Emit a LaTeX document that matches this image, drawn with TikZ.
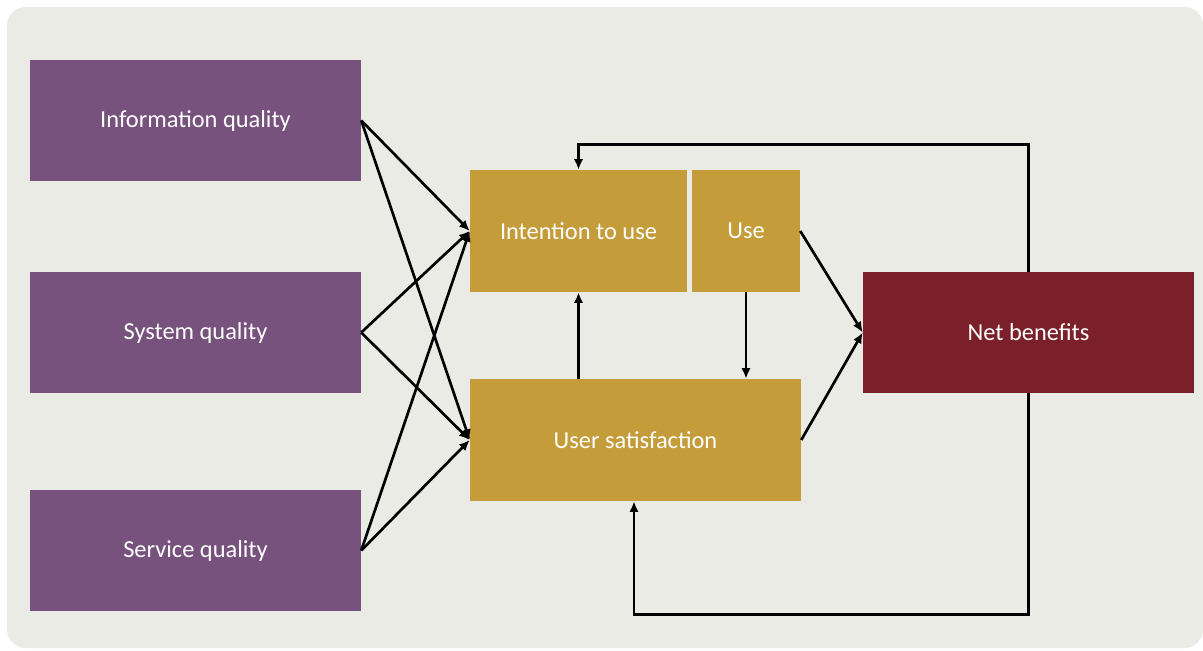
\documentclass[tikz,border=0pt]{standalone}
\usepackage{fontspec}
\setmainfont{Carlito}
\usetikzlibrary{arrows.meta}
\definecolor{bgpanel}{HTML}{EBEBE6}
\definecolor{purp}{HTML}{76527C}
\definecolor{gold}{HTML}{C49C3A}
\definecolor{wine}{HTML}{7B1F2A}
\begin{document}
\begin{tikzpicture}[x=0.75pt, y=-0.75pt,
  blk/.style={rectangle, inner sep=0pt, text=white,
    font=\fontsize{18.3pt}{21pt}\selectfont},
  arr/.style={line width=2pt, -{Latex[length=8pt,width=7pt]}}]
\useasboundingbox (0,0) rectangle (1203,650);
\fill[white] (0,0) rectangle (1203,650);
\fill[bgpanel, rounded corners=14pt] (7,7) rectangle (1203,648);

% quality dimensions
\node[blk, fill=purp, minimum width=331*0.75pt, minimum height=121*0.75pt] (iq) at (195.5,120.5) {Information quality};
\node[blk, fill=purp, minimum width=331*0.75pt, minimum height=121*0.75pt] (sq) at (195.5,332.5) {System quality};
\node[blk, fill=purp, minimum width=331*0.75pt, minimum height=121*0.75pt] (svq) at (195.5,550.5) {Service quality};

% use and satisfaction
\node[blk, fill=gold, minimum width=217*0.75pt, minimum height=122*0.75pt] (iu) at (578.5,231) {Intention to use};
\node[blk, fill=gold, minimum width=108*0.75pt, minimum height=122*0.75pt] (use) at (746,231) {Use};
\node[blk, fill=gold, minimum width=331*0.75pt, minimum height=122*0.75pt] (us) at (635.5,440) {User satisfaction};

% outcome
\node[blk, fill=wine, minimum width=331*0.75pt, minimum height=121*0.75pt] (nb) at (1028.5,332.5) {Net benefits};

% quality -> intention / satisfaction
\foreach \q in {iq,sq,svq}{
  \draw[arr] (\q.east) -- (iu.west);
  \draw[arr] (\q.east) -- (us.west);
}

% links between the middle boxes
\draw[arr] (iu.south |- us.north) -- (iu.south);
\draw[arr] (use.south) -- (use.south |- us.north);

% towards net benefits
\draw[arr] (use.east) -- (nb.west);
\draw[arr] (us.east) -- (nb.west);

% feedback loops
\draw[arr] (nb.north) -- ++(0,-127) -| (iu.north);
\draw[arr] (nb.south) -- ++(0,221) -| ([xshift=-1.5*0.75pt]us.south);
\end{tikzpicture}
\end{document}
